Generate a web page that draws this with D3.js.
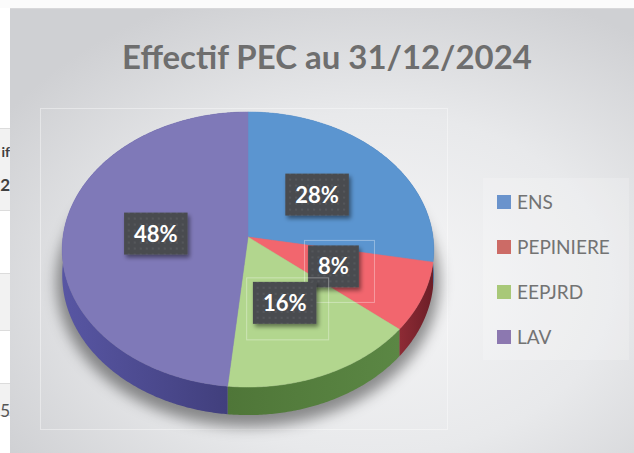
<!DOCTYPE html>
<html>
<head>
<meta charset="utf-8">
<script src="https://cdn.jsdelivr.net/npm/d3@7"></script>
<style>
  html, body { margin: 0; padding: 0; background: #fff; }
  svg { display: block; }
</style>
</head>
<body>
<script>
// data (share of staff, in %)
var categories = ["ENS", "PEPINIERE", "EEPJRD", "LAV"];
var values = [27.9, 8.1, 15.6, 48.4];
var topColors = ["#5b95d0", "#f2666e", "#b2d68e", "#7f79b8"];
var wallColors = [["#4677ad", "#3d6699"], ["#8e2b35", "#6c1e27"], ["#4f7638", "#5b8744"], ["#5856a3", "#3e3c78"]];
var legendColors = ["#6a93cc", "#cc6b66", "#a8c878", "#8c78b0"];
var title = "Effectif PEC au 31/12/2024";

var w = 634, h = 453;

var svg = d3.select("body").append("svg")
  .attr("width", w)
  .attr("height", h);

var defs = svg.append("defs");

var bg = defs.append("radialGradient").attr("id", "bg")
  .attr("cx", "58%").attr("cy", "62%").attr("r", "70%");
bg.append("stop").attr("offset", "0%").attr("stop-color", "#f6f6f7");
bg.append("stop").attr("offset", "55%").attr("stop-color", "#e8e9eb");
bg.append("stop").attr("offset", "100%").attr("stop-color", "#cfd0d3");

var pat = defs.append("pattern").attr("id", "dots")
  .attr("width", 6).attr("height", 6).attr("patternUnits", "userSpaceOnUse");
pat.append("rect").attr("width", 6).attr("height", 6).attr("fill", "#4a4c50");
pat.append("circle").attr("cx", 3).attr("cy", 3).attr("r", 0.9).attr("fill", "#595b5f");

var blur = defs.append("filter").attr("id", "pieShadow")
  .attr("x", "-20%").attr("y", "-20%").attr("width", "140%").attr("height", "140%");
blur.append("feGaussianBlur").attr("stdDeviation", 7);

var ds = defs.append("filter").attr("id", "boxShadow")
  .attr("x", "-30%").attr("y", "-30%").attr("width", "160%").attr("height", "160%");
ds.append("feDropShadow").attr("dx", 2).attr("dy", 3).attr("stdDeviation", 2)
  .attr("flood-color", "#000").attr("flood-opacity", 0.45);

wallColors.forEach(function(c, i){
  var g = defs.append("linearGradient").attr("id", "wall" + i)
    .attr("x1", "0%").attr("x2", "100%").attr("y1", "0%").attr("y2", "0%");
  g.append("stop").attr("offset", "0%").attr("stop-color", c[0]);
  g.append("stop").attr("offset", "100%").attr("stop-color", c[1]);
});

// fragment of the sheet behind the chart (left strip)
var strip = svg.append("g");
strip.append("rect").attr("width", 12).attr("height", h).attr("fill", "#ffffff");
[[128, 210], [273, 330], [383, 415]].forEach(function(b){
  strip.append("rect").attr("x", 0).attr("y", b[0]).attr("width", 12).attr("height", b[1] - b[0])
    .attr("fill", "#f2f2f2");
  strip.append("line").attr("x1", 0).attr("x2", 12).attr("y1", b[0] + 0.5).attr("y2", b[0] + 0.5)
    .attr("stroke", "#dcdcdc");
  strip.append("line").attr("x1", 0).attr("x2", 12).attr("y1", b[1] + 0.5).attr("y2", b[1] + 0.5)
    .attr("stroke", "#dcdcdc");
});
strip.append("text").attr("x", 10).attr("y", 157).attr("text-anchor", "end")
  .style("font", "bold 14px Lato").attr("fill", "#404040").text("if");
strip.append("text").attr("x", 10).attr("y", 191).attr("text-anchor", "end")
  .style("font", "bold 17px Lato").attr("fill", "#404040").text("2");
strip.append("text").attr("x", 10).attr("y", 417).attr("text-anchor", "end")
  .style("font", "17px Lato").attr("fill", "#555").text("5");

// chart panel
svg.append("rect").attr("x", 0).attr("y", 0).attr("width", w).attr("height", 8).attr("fill", "#fbfbfb");
svg.append("rect").attr("x", 10).attr("y", 8).attr("width", w - 10).attr("height", h - 8)
  .attr("fill", "url(#bg)");
svg.append("line").attr("x1", 10).attr("x2", w).attr("y1", 8.5).attr("y2", 8.5)
  .attr("stroke", "#d8d8da");

// plot area frame
svg.append("rect").attr("x", 40.5).attr("y", 108.5).attr("width", 407).attr("height", 321)
  .attr("fill", "none").attr("stroke", "rgba(255,255,255,0.4)");

// title, fitted to the width seen in the picture
var t = svg.append("text")
  .attr("x", 327).attr("y", 69).attr("text-anchor", "middle")
  .attr("fill", "#6e6e6e")
  .style("font-family", "Lato").style("font-weight", "bold").style("font-size", "30px")
  .text(title);
var fs = 30 * 410 / t.node().getComputedTextLength();
t.style("font-size", fs + "px");

// perspective pie
var cx = 248, cy = 237, kx = 185, ky = 136.4, p = 0.0909, depth = 25.5;
function proj(a, r, z){
  var u = r * Math.sin(a), v = -r * Math.cos(a);
  var q = 1 - p * v;
  return [cx + kx * u / q, cy + (ky * v + z) / q];
}
function arcPts(a0, a1, r, z){
  var n = Math.max(2, Math.ceil((a1 - a0) / 0.01));
  return d3.range(n + 1).map(function(i){ return proj(a0 + (a1 - a0) * i / n, r, z); });
}
var line = d3.line();

var pie = d3.pie().sort(null)(values);

var chart = svg.append("g");

// shadow under the pie
chart.append("path")
  .attr("d", line(arcPts(0, 2 * Math.PI, 1.03, depth + 6)) + "Z")
  .attr("fill", "rgba(0,0,0,0.42)")
  .attr("filter", "url(#pieShadow)");

// outer walls
chart.selectAll(".wall").data(pie).enter().append("path")
  .attr("class", "wall")
  .attr("d", function(d){
    var top = arcPts(d.startAngle, d.endAngle, 1, 0);
    var bot = arcPts(d.startAngle, d.endAngle, 1, depth).reverse();
    return line(top.concat(bot)) + "Z";
  })
  .attr("fill", function(d, i){ return "url(#wall" + i + ")"; });

// top faces
chart.selectAll(".slice").data(pie).enter().append("path")
  .attr("class", "slice")
  .attr("d", function(d){
    return line([proj(0, 0, 0)].concat(arcPts(d.startAngle, d.endAngle, 1, 0))) + "Z";
  })
  .attr("fill", function(d, i){ return topColors[i]; })
  .attr("stroke", function(d, i){ return topColors[i]; })
  .attr("stroke-width", 0.5);

// data labels
var total = d3.sum(values);
var fmt = d3.format(".0%");
var lab = chart.selectAll(".lab").data(pie).enter().append("g")
  .attr("class", "lab")
  .attr("transform", function(d){
    var pt = proj((d.startAngle + d.endAngle) / 2, 0.5, 0);
    return "translate(" + pt[0] + "," + pt[1] + ")";
  });

// faint leader frames that Excel leaves around the small labels
lab.filter(function(d, i){ return i === 1 || i === 2; }).append("rect")
  .attr("x", function(d, i){ return i === 0 ? -29 : -38; })
  .attr("y", function(d, i){ return i === 0 ? -26 : -25; })
  .attr("width", function(d, i){ return i === 0 ? 70 : 82; })
  .attr("height", 62)
  .attr("fill", "none")
  .attr("stroke", "rgba(255,255,255,0.35)");

lab.each(function(d){
  var g = d3.select(this);
  var txt = g.append("text")
    .attr("text-anchor", "middle").attr("y", 8)
    .attr("fill", "#fff")
    .style("font-family", "Lato").style("font-weight", "bold").style("font-size", "22px")
    .text(fmt(d.value / total));
  var tw = txt.node().getComputedTextLength();
  g.insert("rect", "text")
    .attr("x", -tw / 2 - 10).attr("y", -21)
    .attr("width", tw + 20).attr("height", 42)
    .attr("fill", "url(#dots)")
    .attr("filter", "url(#boxShadow)");
});

// legend
svg.append("rect").attr("x", 483).attr("y", 178).attr("width", 146).attr("height", 182)
  .attr("fill", "rgba(255,255,255,0.2)");
var legY = d3.scalePoint().domain(categories).range([202, 337]);
var leg = svg.selectAll(".leg").data(categories).enter().append("g")
  .attr("class", "leg")
  .attr("transform", function(d){ return "translate(497," + legY(d) + ")"; });
leg.append("rect").attr("x", 0).attr("y", -7).attr("width", 14).attr("height", 14)
  .attr("fill", function(d, i){ return legendColors[i]; });
leg.append("text").attr("x", 20).attr("y", 7)
  .attr("fill", "#737373")
  .style("font-family", "Lato").style("font-size", "19px")
  .text(function(d){ return d; });
</script>
</body>
</html>
